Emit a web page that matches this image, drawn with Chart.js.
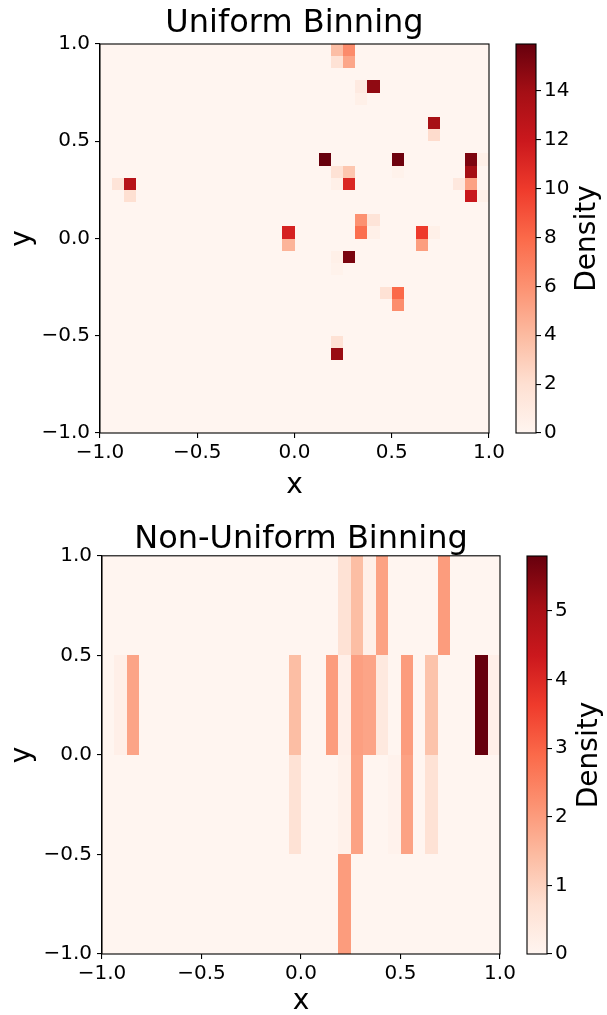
<!DOCTYPE html>
<html>
<head>
<meta charset="utf-8">
<script src="https://cdn.jsdelivr.net/npm/chart.js@4.4.0/dist/chart.umd.min.js"></script>
<style>
    html, body { margin: 0; padding: 0; background: #fff; }
    body { width: 607px; height: 1015px; position: relative; overflow: hidden; }
    canvas { position: absolute; }
</style>
</head>
<body>
<canvas id="uniformMap" width="510" height="505" style="left:0;top:0"></canvas>
<canvas id="uniformBar" width="107" height="505" style="left:500px;top:0"></canvas>
<canvas id="nonUniformMap" width="520" height="505" style="left:0;top:510px"></canvas>
<canvas id="nonUniformBar" width="97" height="505" style="left:510px;top:510px"></canvas>
<script>
// --- uniform binning: 32 x 32 bins on [-1, 1]
const uniformEdges = [-1, -0.9375, -0.875, -0.8125, -0.75, -0.6875, -0.625, -0.5625, -0.5,
    -0.4375, -0.375, -0.3125, -0.25, -0.1875, -0.125, -0.0625, 0, 0.0625, 0.125, 0.1875, 0.25,
    0.3125, 0.375, 0.4375, 0.5, 0.5625, 0.625, 0.6875, 0.75, 0.8125, 0.875, 0.9375, 1];
// non-empty bins: column index (from x = -1), row index (from y = -1), density
const uniformCol = [19, 20, 19, 20, 21, 22, 21, 27, 27, 18, 24, 30, 31, 19, 20, 24, 30, 1, 2, 19, 20, 29,
    30, 2, 30, 31, 21, 22, 15, 21, 22, 26, 27, 15, 26, 19, 20, 19, 23, 24, 24, 19, 19];
const uniformRow = [31, 31, 30, 30, 28, 28, 27, 25, 24, 22, 22, 22, 22, 21, 21, 21, 21, 20, 20, 20, 20, 20,
    20, 19, 19, 19, 17, 17, 16, 16, 16, 16, 16, 15, 15, 14, 14, 13, 11, 11, 10, 7, 6];
const uniformDensity = [3.8, 6.3, 1.8, 5.0, 1.0, 14.6, 0.5, 13.8, 2.2, 15.9, 15.7, 15.2, 0.5, 1.8, 3.4, 0.3,
    13.9, 1.6, 13.0, 0.5, 11.1, 1.2, 5.2, 2.0, 12.1, 0.5, 6.0, 1.6, 11.4, 7.7, 0.5, 10.0, 0.5, 4.3, 5.4,
    0.5, 15.3, 0.3, 1.8, 8.0, 6.2, 1.8, 14.3];
const uniformMax = 15.91;
const uniformTicks = [0, 2, 4, 6, 8, 10, 12, 14];

// --- non-uniform binning
const nonUniformXEdges = [-1, -0.9375, -0.875, -0.8125, -0.0625, 0, 0.125, 0.1875, 0.25, 0.3125,
    0.375, 0.4375, 0.5, 0.5625, 0.625, 0.6875, 0.75, 0.875, 0.9375, 1];
const nonUniformYEdges = [-1, -0.5, 0, 0.5, 1];
const densityRow1 = [0, 0, 0, 0, 0, 0, 0, 2.0, 0, 0, 0, 0, 0, 0, 0, 0, 0, 0, 0];           // -1 .. -0.5
const densityRow2 = [0, 0, 0, 0, 0.65, 0, 0, 0.15, 1.9, 0, 0, 0.1, 1.9, 0, 0.65, 0, 0, 0, 0]; // -0.5 .. 0
const densityRow3 = [0, 0.2, 1.85, 0, 1.4, 0, 2.0, 0.2, 1.95, 1.85, 0.4, 0, 2.0, 0, 1.3, 0, 0, 5.8, 0.2]; // 0 .. 0.5
const densityRow4 = [0, 0, 0, 0, 0, 0, 0, 0.65, 1.4, 0.2, 1.9, 0, 0, 0, 0, 2.0, 0, 0, 0];   // 0.5 .. 1
const nonUniformMax = 5.8;
const nonUniformTicks = [0, 1, 2, 3, 4, 5];

const axisTicks = [-1, -0.5, 0, 0.5, 1];

const FONT = "'DejaVu Sans', sans-serif";
const redsStops = ["#fff5f0", "#fee0d2", "#fcbba1", "#fc9272", "#fb6a4a", "#ef3b2c", "#cb181d", "#a50f15", "#67000d"];

function hexRgb(h) {
    return [1, 3, 5].map(i => parseInt(h.substr(i, 2), 16));
}

function reds(t) {
    t = Math.max(0, Math.min(1, t)) * 8;
    const i = Math.min(7, Math.floor(t));
    const f = t - i;
    const a = hexRgb(redsStops[i]), b = hexRgb(redsStops[i + 1]);
    const c = a.map((v, k) => Math.round(v + (b[k] - v) * f));
    return "rgb(" + c.join(",") + ")";
}

function fmt(v) {
    return v.toFixed(1).replace("-", "\u2212");
}

// uniform cells: every bin, empty ones at 0
const uniformCells = [];
for (let c = 0; c < uniformEdges.length - 1; c++) {
    for (let r = 0; r < uniformEdges.length - 1; r++) {
        uniformCells.push({ x0: uniformEdges[c], x1: uniformEdges[c + 1], y0: uniformEdges[r], y1: uniformEdges[r + 1], v: 0 });
    }
}
uniformCol.forEach((c, i) => {
    uniformCells[c * (uniformEdges.length - 1) + uniformRow[i]].v = uniformDensity[i];
});

const nonUniformCells = [];
[densityRow1, densityRow2, densityRow3, densityRow4].forEach((row, r) => {
    row.forEach((v, c) => {
        nonUniformCells.push({ x0: nonUniformXEdges[c], x1: nonUniformXEdges[c + 1], y0: nonUniformYEdges[r], y1: nonUniformYEdges[r + 1], v: v });
    });
});

const heatmapPlugin = {
    id: "heatmap",
    beforeDatasetsDraw(chart, args, opts) {
        const { ctx, scales: { x, y } } = chart;
        ctx.save();
        opts.cells.forEach(cell => {
            const l = Math.round(x.getPixelForValue(cell.x0));
            const r = Math.round(x.getPixelForValue(cell.x1));
            const t = Math.round(y.getPixelForValue(cell.y1));
            const b = Math.round(y.getPixelForValue(cell.y0));
            ctx.fillStyle = reds(cell.v / opts.vmax);
            ctx.fillRect(l, t, r - l, b - t);
        });
        ctx.restore();
    },
    afterDatasetsDraw(chart) {
        const a = chart.chartArea;
        const ctx = chart.ctx;
        ctx.save();
        ctx.strokeStyle = "#000";
        ctx.lineWidth = 1.1;
        ctx.strokeRect(a.left, a.top, a.right - a.left, a.bottom - a.top);
        ctx.restore();
    }
};

const colorbarPlugin = {
    id: "colorbar",
    afterDatasetsDraw(chart, args, opts) {
        const a = chart.chartArea;
        const ctx = chart.ctx;
        ctx.save();
        ctx.strokeStyle = "#000";
        ctx.lineWidth = 1.1;
        ctx.strokeRect(a.left, a.top, a.right - a.left, a.bottom - a.top);
        ctx.translate(opts.labelX, (a.top + a.bottom) / 2);
        ctx.rotate(-Math.PI / 2);
        ctx.fillStyle = "#000";
        ctx.font = "28px " + FONT;
        ctx.textAlign = "center";
        ctx.textBaseline = "alphabetic";
        ctx.fillText("Density", 0, 0);
        ctx.restore();
    }
};

function axisOpts(label, size, horizontal, titlePad) {
    return {
        type: "linear",
        min: -1,
        max: 1,
        afterBuildTicks: scale => { scale.ticks = axisTicks.map(v => ({ value: v })); },
        ticks: {
            color: "#000",
            font: { family: FONT, size: 20 },
            padding: horizontal ? 3 : 5,
            maxRotation: 0,
            autoSkip: false,
            callback: v => fmt(v)
        },
        grid: { drawOnChartArea: false, drawTicks: true, tickLength: 5, color: "#000", lineWidth: 1.1 },
        border: { display: true, color: "#000", width: 1.1 },
        title: { display: true, text: label, color: "#000", font: { family: FONT, size: 28 }, padding: titlePad },
        afterFit: scale => {
            if (horizontal) scale.height = size; else scale.width = size;
        }
    };
}

function heatmapChart(id, cells, vmax, title, lay) {
    return new Chart(document.getElementById(id), {
        type: "scatter",
        data: { datasets: [{ data: [] }] },
        plugins: [heatmapPlugin],
        options: {
            responsive: false,
            animation: false,
            events: [],
            layout: { padding: { left: 0, right: lay.padRight, top: 0, bottom: 0 } },
            plugins: {
                legend: { display: false },
                tooltip: { enabled: false },
                title: {
                    display: true,
                    text: title,
                    fullSize: false,
                    color: "#000",
                    font: { family: FONT, size: 32, weight: "normal" },
                    padding: { top: lay.titleTop, bottom: lay.titleBottom }
                },
                heatmap: { cells: cells, vmax: vmax }
            },
            scales: {
                x: axisOpts("x", lay.xHeight, true, { top: 0, bottom: lay.xTitlePad }),
                y: axisOpts("y", lay.yWidth, false, { top: lay.yTitlePad, bottom: 0 })
            }
        }
    });
}

function colorbarChart(id, vmax, ticks, lay) {
    return new Chart(document.getElementById(id), {
        type: "bar",
        data: {
            labels: [""],
            datasets: [{
                data: [vmax],
                barPercentage: 1,
                categoryPercentage: 1,
                borderWidth: 0,
                backgroundColor: c => {
                    const y = c.chart.scales.y;
                    if (!c.chart.chartArea || !y) return redsStops[0];
                    const y0 = y.getPixelForValue(0), y1 = y.getPixelForValue(vmax);
                    if (!Number.isFinite(y0) || !Number.isFinite(y1)) return redsStops[0];
                    const g = c.chart.ctx.createLinearGradient(0, y0, 0, y1);
                    redsStops.forEach((s, i) => g.addColorStop(i / 8, s));
                    return g;
                }
            }]
        },
        plugins: [colorbarPlugin],
        options: {
            responsive: false,
            animation: false,
            events: [],
            layout: { padding: { left: lay.padLeft, right: 0, top: lay.padTop, bottom: lay.padBottom } },
            plugins: {
                legend: { display: false },
                tooltip: { enabled: false },
                colorbar: { labelX: lay.labelX }
            },
            scales: {
                x: { display: false },
                y: {
                    position: "right",
                    min: 0,
                    max: vmax,
                    afterBuildTicks: scale => { scale.ticks = ticks.map(v => ({ value: v })); },
                    ticks: { color: "#000", font: { family: FONT, size: 20 }, padding: 3, callback: v => String(v) },
                    grid: { drawOnChartArea: false, drawTicks: true, tickLength: 5, color: "#000", lineWidth: 1.1 },
                    border: { display: false },
                    afterFit: scale => { scale.width = lay.axisWidth; }
                }
            }
        }
    });
}

heatmapChart("uniformMap", uniformCells, uniformMax, "Uniform Binning",
    { padRight: 21, xHeight: 72, yWidth: 100, titleTop: 4, titleBottom: 1.6, xTitlePad: 2, yTitlePad: 6 });
colorbarChart("uniformBar", uniformMax, uniformTicks,
    { padLeft: 16, padTop: 44, padBottom: 72, axisWidth: 71, labelX: 95 });

heatmapChart("nonUniformMap", nonUniformCells, nonUniformMax, "Non-Uniform Binning",
    { padRight: 20, xHeight: 61, yWidth: 102, titleTop: 10, titleBottom: -2.6, xTitlePad: -4, yTitlePad: 6 });
colorbarChart("nonUniformBar", nonUniformMax, nonUniformTicks,
    { padLeft: 17, padTop: 46, padBottom: 61, axisWidth: 60, labelX: 87 });
</script>
</body>
</html>
